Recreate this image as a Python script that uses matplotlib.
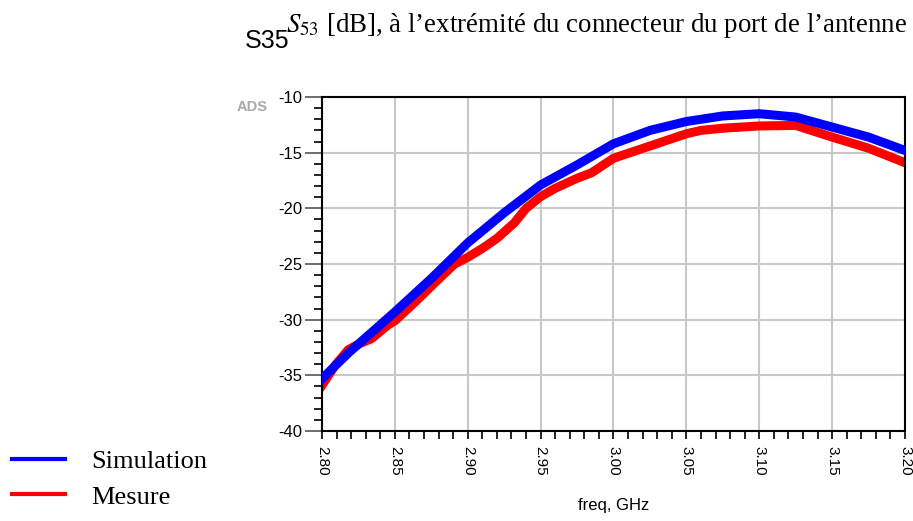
"""
S53 simulation vs mesure, reproduction d'un tracé ADS
"""

import matplotlib
matplotlib.use("Agg")
import matplotlib.pyplot as plt
from matplotlib.ticker import MultipleLocator
from matplotlib.lines import Line2D

# Simulation (GHz, dB)
freq_sim = [2.800, 2.818, 2.850, 2.875, 2.900, 2.925, 2.950, 2.975, 3.000,
            3.025, 3.050, 3.075, 3.100, 3.125, 3.150, 3.175, 3.200]
s53_sim = [-35.3, -33.0, -29.3, -26.3, -23.1, -20.4, -17.9, -16.1, -14.2,
           -13.0, -12.2, -11.7, -11.5, -11.8, -12.7, -13.6, -14.8]

# Mesure (GHz, dB)
freq_mes = [2.800, 2.809, 2.818, 2.825, 2.834, 2.845, 2.850, 2.864, 2.882,
            2.891, 2.900, 2.910, 2.920, 2.932, 2.940, 2.950, 2.960, 2.975,
            2.985, 3.000, 3.025, 3.050, 3.060, 3.075, 3.100, 3.125, 3.150,
            3.175, 3.200]
s53_mes = [-35.9, -34.1, -32.7, -32.2, -31.7, -30.5, -30.1, -28.4, -26.1,
           -25.0, -24.4, -23.6, -22.7, -21.3, -20.0, -18.95, -18.2, -17.3,
           -16.8, -15.5, -14.4, -13.3, -13.0, -12.8, -12.6, -12.55, -13.6,
           -14.6, -15.9]

x_ticks = [2.80, 2.85, 2.90, 2.95, 3.00, 3.05, 3.10, 3.15, 3.20]
y_ticks = [-40, -35, -30, -25, -20, -15, -10]

serif = ["Liberation Serif", "DejaVu Serif"]
sans = ["Liberation Sans", "DejaVu Sans"]

fig = plt.figure(figsize=(9.13, 5.21), dpi=100)
ax = fig.add_axes([0.3527, 0.1727, 0.6385, 0.6411])

ax.plot(freq_sim, s53_sim, color="#0000ff", lw=6.5, solid_joinstyle="round", zorder=3)
ax.plot(freq_mes, s53_mes, color="#ff0000", lw=6.5, solid_joinstyle="round", zorder=2)

ax.set_xlim(2.80, 3.20)
ax.set_ylim(-40, -10)
ax.set_xticks(x_ticks)
ax.set_xticklabels([f"{v:.2f}" for v in x_ticks], rotation=270, family=sans, fontsize=11)
ax.set_yticks(y_ticks)
ax.set_yticklabels([f"{v}" for v in y_ticks], family=sans, fontsize=12)
ax.xaxis.set_minor_locator(MultipleLocator(0.01))
ax.yaxis.set_minor_locator(MultipleLocator(1))

ax.tick_params(axis="y", which="major", direction="out", length=12, width=1.2,
               color="#555555", pad=2)
ax.tick_params(axis="x", which="major", direction="out", length=6, width=1.2,
               color="black", pad=5)
ax.tick_params(which="minor", direction="out", length=6, width=1.2, color="black")
ax.grid(True, which="major", color="#c8c8c8", lw=1.5, zorder=0)
for sp in ax.spines.values():
    sp.set_linewidth(1.5)

ax.set_xlabel("freq, GHz", family=sans, fontsize=12, labelpad=16)

# titre
fig.text(0.268, 0.908, "S35", family=sans, fontsize=18, va="baseline")
fig.text(0.313, 0.939, "$S_{53}$ [dB], à l’extrémité du connecteur du port de l’antenne",
         family=serif, fontsize=19.4, va="baseline", math_fontfamily="stix")
fig.text(0.259, 0.787, "ADS", family=sans, fontsize=10.5, color="#a8a8a8",
         fontweight="bold", va="baseline")

# légende
handles = [Line2D([], [], color="#0000ff", lw=3),
           Line2D([], [], color="#ff0000", lw=3)]
fig.legend(handles, ["Simulation", "Mesure"], loc="lower left",
           bbox_to_anchor=(-0.013, -0.022), frameon=False, handlelength=2.0,
           handletextpad=1.0, labelspacing=0.45, prop={"family": serif, "size": 19})

fig.savefig("out.png", dpi=100)
